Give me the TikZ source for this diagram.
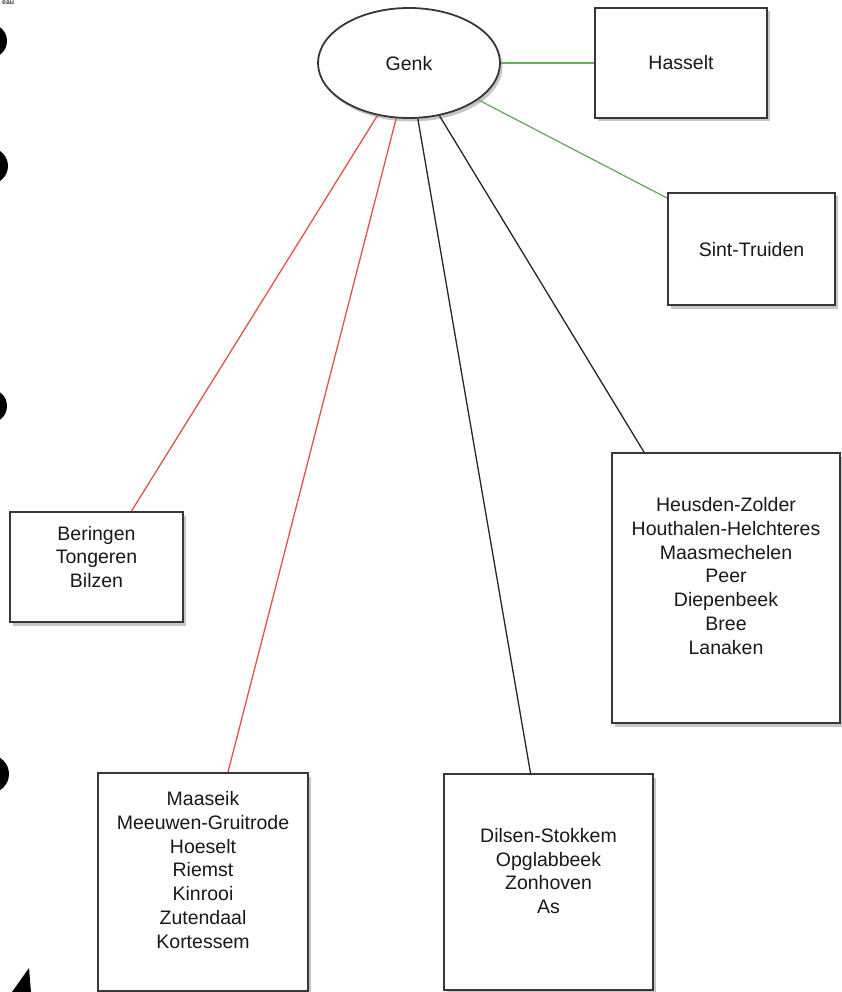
\documentclass[tikz,border=0pt]{standalone}
\usepackage{fontspec}
\setmainfont{Liberation Sans}
\usetikzlibrary{shapes.geometric,shadows,calc}
\definecolor{redline}{RGB}{222,84,72}
\definecolor{greenline}{RGB}{104,172,96}
\definecolor{boxline}{RGB}{55,55,55}
\begin{document}
\begin{tikzpicture}[x=1pt,y=-1pt,
  cbox/.style={draw=boxline,line width=1.8pt,fill=white,rectangle,inner sep=0pt,
    drop shadow={shadow xshift=2.5pt,shadow yshift=-3.5pt,opacity=0.45}},
  txt/.style={font=\fontsize{19.5}{23.8}\selectfont,align=center,text=black!90,inner sep=0pt},
  conn/.style={line width=1.3pt}]
\useasboundingbox (0,0) rectangle (842,992);
% binder holes
\fill[black] (-10,41) circle[radius=17];
\fill[black] (-10,166) circle[radius=18];
\fill[black] (-10,406) circle[radius=17];
\fill[black] (-10,774) circle[radius=19];
\fill[black] (12,992) -- (29,968) -- (31,992) -- cycle;
\node[anchor=north west,inner sep=0pt,font=\bfseries\fontsize{7}{8}\selectfont,text=black!75] (frag) at (2,0.5) {eau};
% nodes
\node[ellipse,draw=boxline,line width=1.8pt,fill=white,minimum width=182pt,minimum height=110pt,
  drop shadow={shadow xshift=2.5pt,shadow yshift=-3.5pt,opacity=0.45}] (genk) at (409,63) {};
\node[txt] (genkt) at (409,64) {Genk};
\node[cbox,minimum width=172pt,minimum height=110pt] (has) at (681,63) {};
\node[txt] (hast) at (681,63) {Hasselt};
\node[cbox,minimum width=167pt,minimum height=112pt] (st) at (751.5,249) {};
\node[txt] (stt) at (751.5,250) {Sint-Truiden};
\node[cbox,minimum width=228pt,minimum height=270pt] (hz) at (726,588) {};
\node[txt] (hzt) at (726,576) {Heusden-Zolder\\Houthalen-Helchteres\\Maasmechelen\\Peer\\Diepenbeek\\Bree\\Lanaken};
\node[cbox,minimum width=173pt,minimum height=110pt] (ber) at (96.5,567) {};
\node[txt] (bert) at (96.5,557) {Beringen\\Tongeren\\Bilzen};
\node[cbox,minimum width=210pt,minimum height=218pt] (ma) at (203,882) {};
\node[txt] (mat) at (203,870) {Maaseik\\Meeuwen-Gruitrode\\Hoeselt\\Riemst\\Kinrooi\\Zutendaal\\Kortessem};
\node[cbox,minimum width=209pt,minimum height=216pt] (di) at (548.5,882) {};
\node[txt] (dit) at (548.5,871) {Dilsen-Stokkem\\Opglabbeek\\Zonhoven\\As};
% connectors
\draw[conn,greenline] (genk.east) -- (has.west);
\draw[conn,greenline] (genk.332) -- ([yshift=-6pt]st.north west);
\draw[conn,redline] (genk.239) -- ([xshift=35pt]ber.north);
\draw[conn,redline] (genk.257) -- ([xshift=25pt]ma.north);
\draw[conn,black!85] (genk.279) -- ([xshift=-18pt]di.north);
\draw[conn,black!85] (genk.300) -- ([xshift=-82pt]hz.north);
\end{tikzpicture}
\end{document}
